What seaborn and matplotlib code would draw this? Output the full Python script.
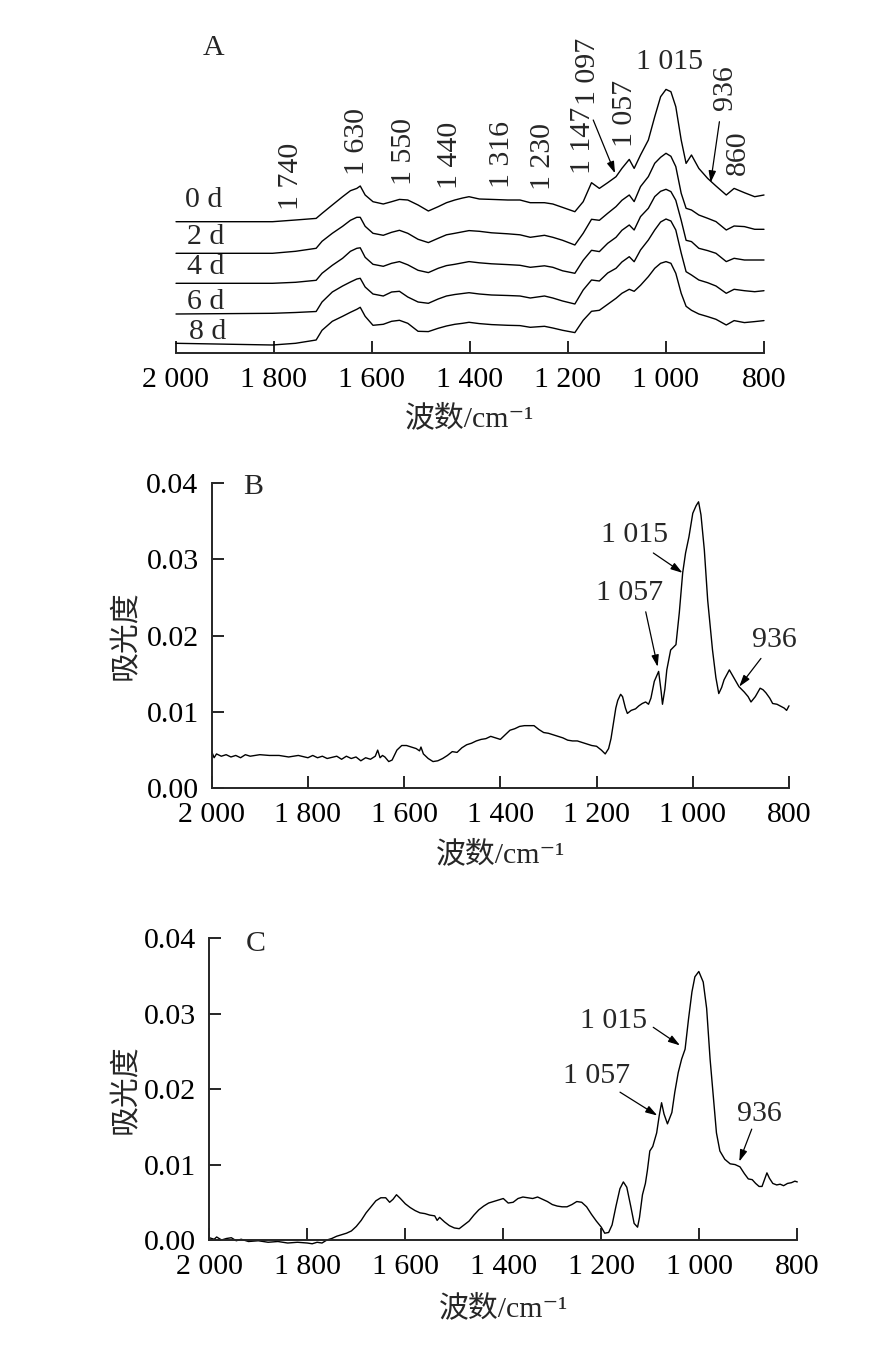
import numpy as np
import pandas as pd
import matplotlib
matplotlib.use("Agg")
import matplotlib.pyplot as plt
import seaborn as sns

sns.set_style("ticks")
plt.rcParams['font.family'] = ['Liberation Serif', 'Noto Sans CJK SC', 'DejaVu Sans']
plt.rcParams['axes.unicode_minus'] = True

# ---------------- data ----------------
# Panel A: wavenumbers and intensities (a.u.) for each storage day
wn_A = [2000, 1803, 1756, 1714, 1702, 1681, 1660, 1644, 1631, 1624, 1614, 1598, 1577, 1560,
        1544, 1527, 1506, 1485, 1465, 1448, 1431, 1415, 1402, 1381, 1356, 1323, 1298, 1277,
        1248, 1231, 1211, 1186, 1169, 1152, 1136, 1119, 1102, 1090, 1075, 1065, 1052, 1036,
        1023, 1011, 1000, 990, 980, 969, 959, 948, 933, 915, 898, 877, 861, 840, 819, 800]
days = ["0 d", "2 d", "4 d", "6 d", "8 d"]
int_0d = [0, 0, 1.7, 3.3, 8.3, 16.7, 25, 31, 33.3, 35.7, 26.7, 20, 17.7, 20,
          22.3, 21.7, 16.7, 10.7, 15, 19, 21.7, 23.7, 25, 22.7, 22.3, 21.7, 21.7, 19,
          19, 17.7, 14.3, 10, 20, 39, 33.3, 39, 45, 53.3, 62.3, 53.3, 66.7, 81.7,
          105, 125, 132.3, 130, 115, 81.7, 58.3, 66.7, 53.3, 43.3, 35.7, 26.7, 33.3, 29, 25, 26.7]
int_2d = [0, 0, 2, 5, 12, 20, 27, 33, 36, 36, 27, 20, 18, 21,
          23, 20, 14, 10.7, 15, 18.5, 20, 21.5, 22.7, 22, 20.5, 19.5, 18.5, 16,
          18, 16, 13, 8.3, 20, 34, 33, 40, 46.7, 53, 58.3, 51.7, 66.7, 76.7,
          90, 96, 100, 97, 86.7, 60, 45, 43.3, 38.3, 35, 31.7, 23.3, 27.3, 26.7, 24, 24]
int_4d = [0, 0, 1, 3, 10, 18, 25, 32, 35, 35.5, 26, 19, 17, 20,
          21.7, 18.5, 13, 10.7, 15, 17.7, 19, 20.5, 21.7, 20.5, 19.5, 18.7, 18, 16,
          17.5, 16, 12.5, 10, 23, 33, 31.7, 40, 46, 53, 58.3, 53.3, 66.7, 75,
          86.7, 92, 94, 91.7, 83, 63, 43, 41.7, 35, 32.7, 30, 21.7, 25, 23.3, 23.3, 23.3]
int_6d = [0, 0.7, 1.5, 2.5, 12, 22, 28, 32, 35, 35.7, 27, 20, 18, 22,
          22.7, 17, 12, 10.7, 15, 18, 19.5, 20.5, 21.3, 20, 19, 18.5, 18, 16,
          18, 16, 13, 10, 24, 34, 33, 41, 45.7, 52, 57.3, 52.3, 64, 74,
          84, 92, 95, 93, 84, 61, 42.3, 39, 34, 31.3, 28, 20.7, 24.7, 23.3, 22.3, 23.3]
int_8d = [0, -1.7, 0, 3.3, 13, 22, 27, 31, 34, 36, 27, 18, 19, 22,
          23, 20, 12, 11.7, 15, 17.3, 19, 20, 21, 19.7, 18.7, 18, 17.7, 16,
          17, 15.3, 13, 10.7, 23, 32, 33, 39, 45, 50, 54, 52, 58, 66.7,
          75, 80, 81.7, 80, 70, 50, 37, 33, 29.3, 26.7, 24, 18.3, 22.7, 20.7, 21.7, 22.7]
offsets_A = [131, 99.4, 69.4, 38.7, 9.4]

peaks_A_rot = ["1 740", "1 630", "1 550", "1 440", "1 316", "1 230", "1 147", "1 097", "1 057", "936", "860"]

# Panel B: absorbance
wn_B = [2000, 1995, 1990, 1980, 1970, 1960, 1950, 1940, 1930, 1920, 1900, 1880, 1860, 1840,
        1820, 1800, 1790, 1780, 1770, 1760, 1740, 1730, 1720, 1710, 1700, 1690, 1680, 1670,
        1660, 1655, 1650, 1645, 1640, 1632, 1625, 1615, 1605, 1595, 1585, 1575, 1568, 1565,
        1560, 1550, 1540, 1530, 1520, 1510, 1500, 1490, 1480, 1470, 1460, 1450, 1440, 1430,
        1420, 1410, 1400, 1390, 1380, 1370, 1360, 1350, 1340, 1330, 1320, 1310, 1300, 1290,
        1280, 1270, 1260, 1250, 1240, 1230, 1220, 1210, 1200, 1190, 1182, 1175, 1170, 1165,
        1160, 1156, 1150, 1146, 1140, 1136, 1128, 1119, 1112, 1105, 1098, 1092, 1087, 1080,
        1071, 1066, 1063, 1058, 1054, 1046, 1035, 1028, 1021, 1015, 1008, 1000, 993, 988,
        983, 976, 969, 959, 952, 946, 940, 935, 924, 914, 904, 893, 885, 879, 870, 860,
        854, 848, 840, 834, 825, 816, 810, 805, 800]
abs_B = [0.0048, 0.0040, 0.0045, 0.0042, 0.0044, 0.0041, 0.0043, 0.0040, 0.0044, 0.0042, 0.0044, 0.0043, 0.0043, 0.0041,
         0.0043, 0.0040, 0.0043, 0.0040, 0.0042, 0.0039, 0.0042, 0.0038, 0.0042, 0.0039, 0.0041, 0.0036, 0.0040, 0.0038,
         0.0042, 0.0050, 0.0040, 0.0043, 0.0041, 0.0035, 0.0037, 0.0050, 0.0056, 0.0056, 0.0054, 0.0052, 0.0049, 0.0054,
         0.0045, 0.0039, 0.0035, 0.0036, 0.0039, 0.0043, 0.0048, 0.0047, 0.0053, 0.0057, 0.0059, 0.0062, 0.0064, 0.0065,
         0.0068, 0.0066, 0.0064, 0.0070, 0.0076, 0.0078, 0.0081, 0.0082, 0.0082, 0.0082, 0.0077, 0.0073, 0.0072, 0.0070,
         0.0068, 0.0066, 0.0063, 0.0062, 0.0062, 0.0060, 0.0058, 0.0056, 0.0055, 0.0050, 0.0045, 0.0052, 0.0065, 0.0085,
         0.0105, 0.0115, 0.0123, 0.0120, 0.0105, 0.0098, 0.0102, 0.0104, 0.0108, 0.0111, 0.0113, 0.0110, 0.0118, 0.0140,
         0.0153, 0.0128, 0.0110, 0.0130, 0.0155, 0.0181, 0.0188, 0.0230, 0.0282, 0.0308, 0.0329, 0.0360, 0.0370, 0.0375,
         0.0358, 0.0312, 0.0246, 0.0181, 0.0145, 0.0124, 0.0132, 0.0142, 0.0155, 0.0144, 0.0133, 0.0126, 0.0120, 0.0113, 0.0120, 0.0131,
         0.0129, 0.0125, 0.0118, 0.0111, 0.0110, 0.0107, 0.0105, 0.0102, 0.0108]

# Panel C: absorbance
wn_C = [2000, 1990, 1985, 1975, 1965, 1955, 1945, 1935, 1920, 1900, 1880, 1860, 1840, 1820,
        1800, 1790, 1780, 1770, 1760, 1750, 1740, 1730, 1720, 1710, 1700, 1690, 1680, 1670,
        1660, 1650, 1640, 1632, 1625, 1618, 1610, 1600, 1590, 1580, 1570, 1560, 1550, 1540,
        1535, 1530, 1520, 1510, 1500, 1490, 1480, 1470, 1460, 1450, 1440, 1430, 1420, 1410,
        1400, 1390, 1380, 1370, 1360, 1350, 1340, 1330, 1320, 1310, 1300, 1290, 1280, 1270,
        1260, 1250, 1240, 1230, 1220, 1210, 1200, 1193, 1185, 1178, 1170, 1162, 1155, 1148,
        1140, 1133, 1126, 1122, 1116, 1110, 1106, 1101, 1095, 1087, 1082, 1077, 1072, 1065,
        1056, 1050, 1043, 1036, 1029, 1022, 1015, 1009, 1001, 992, 985, 978, 971, 965,
        958, 948, 937, 927, 917, 908, 900, 892, 885, 878, 872, 866, 862, 857,
        850, 842, 835, 828, 820, 812, 805, 800]
abs_C = [0.0003, 0.0001, 0.0004, 0.0000, 0.0002, 0.0003, -0.0001, 0.0001, -0.0002, -0.0001, -0.0003, -0.0002, -0.0004, -0.0003,
         -0.0004, -0.0005, -0.0003, -0.0004, 0.0000, 0.0002, 0.0005, 0.0007, 0.0009, 0.0012, 0.0018, 0.0026, 0.0036, 0.0044,
         0.0052, 0.0056, 0.0056, 0.0050, 0.0054, 0.0060, 0.0055, 0.0048, 0.0043, 0.0039, 0.0036, 0.0035, 0.0033, 0.0032,
         0.0026, 0.0030, 0.0024, 0.0019, 0.0016, 0.0015, 0.0020, 0.0025, 0.0033, 0.0040, 0.0045, 0.0049, 0.0051, 0.0053,
         0.0055, 0.0049, 0.0050, 0.0055, 0.0057, 0.0056, 0.0055, 0.0057, 0.0054, 0.0051, 0.0047, 0.0045, 0.0044, 0.0044,
         0.0047, 0.0051, 0.0050, 0.0044, 0.0034, 0.0025, 0.0017, 0.0009, 0.0010, 0.0020, 0.0045, 0.0068, 0.0077, 0.0070,
         0.0045, 0.0022, 0.0017, 0.0030, 0.0060, 0.0075, 0.0092, 0.0118, 0.0124, 0.0142, 0.0164, 0.0182, 0.0167, 0.0154,
         0.0169, 0.0196, 0.0222, 0.0240, 0.0253, 0.0293, 0.0329, 0.0349, 0.0356, 0.0342, 0.0307, 0.0240, 0.0187, 0.0142,
         0.0118, 0.0107, 0.0101, 0.0100, 0.0097, 0.0088, 0.0081, 0.0080, 0.0075, 0.0071, 0.0071, 0.0082, 0.0089, 0.0082,
         0.0075, 0.0073, 0.0074, 0.0072, 0.0075, 0.0076, 0.0078, 0.0077]

x_ticks = [2000, 1800, 1600, 1400, 1200, 1000, 800]
x_tick_labels = ["2 000", "1 800", "1 600", "1 400", "1 200", "1 000", "800"]
y_ticks = [0.00, 0.01, 0.02, 0.03, 0.04]
y_tick_labels = ["0.00", "0.01", "0.02", "0.03", "0.04"]
xlabel = "波数/cm⁻¹"
ylabel = "吸光度"

# ---------------- figure ----------------
W, H = 894, 1349
fig = plt.figure(figsize=(W / 100, H / 100), dpi=100)
FS = 21.5
LW = 1.0


def frac_rect(left, top, right, bottom):
    return [left / W, 1 - bottom / H, (right - left) / W, (bottom - top) / H]


def style_axis(ax, left_spine=True):
    for s in ["top", "right"]:
        ax.spines[s].set_visible(False)
    ax.spines["bottom"].set_linewidth(1.4)
    ax.spines["left"].set_linewidth(1.4)
    if not left_spine:
        ax.spines["left"].set_visible(False)
    ax.tick_params(axis="both", direction="in", length=8.5, width=1.2,
                   labelsize=FS, colors="black")
    ax.tick_params(axis="x", pad=10)
    ax.tick_params(axis="y", pad=9.5)
    ax.set_xlim(2000, 800)
    ax.set_xticks(x_ticks)
    ax.set_xticklabels(x_tick_labels)


arrow_kw = dict(arrowstyle="-|>,head_length=0.7,head_width=0.22", color="black",
                lw=0.9, shrinkA=0, shrinkB=0, mutation_scale=10)

# ----- Panel A -----
axA = fig.add_axes(frac_rect(176, 0, 764, 352.7))
style_axis(axA, left_spine=False)
for lab, vals, off in zip(days, [int_0d, int_2d, int_4d, int_6d, int_8d], offsets_A):
    df = pd.DataFrame({"wn": wn_A, "y": np.array(vals) + off})
    sns.lineplot(data=df, x="wn", y="y", ax=axA, color="black", lw=LW, sort=False,
                 estimator=None)
axA.set_xlim(2000, 800)
axA.set_ylim(0, 352.7)
axA.set_yticks([])
axA.set_ylabel("")
axA.set_xlabel(xlabel, fontsize=FS, va="center")
axA.xaxis.set_label_coords(0.5, -66 / 352.7)

day_pos = [(1943, 152.7), (1939, 116), (1939, 86), (1939, 51), (1935, 21)]
for lab, (x, y) in zip(days, day_pos):
    axA.text(x, y, lab, fontsize=FS, ha="center", va="center")
axA.text(1924, 304.7, "A", fontsize=FS, ha="center", va="center")

rot_pos = [(1766, 176), (1631, 211), (1535, 201), (1440, 197.7), (1335, 197.7), (1250, 196),
           (1169, 212.7), (1159, 281), (1084, 239.7), (879, 265), (853, 199.7)]
for lab, (x, y) in zip(peaks_A_rot, rot_pos):
    axA.text(x, y, lab, fontsize=FS, rotation=90, ha="center", va="center")
axA.text(992, 291, "1 015", fontsize=FS, ha="center", va="center")
axA.annotate("", xy=(1104, 179.4), xytext=(1148.5, 232.7), arrowprops=arrow_kw)
axA.annotate("", xy=(909, 170), xytext=(891, 231), arrowprops=arrow_kw)

# ----- Panel B -----
axB = fig.add_axes(frac_rect(211.7, 482.7, 789, 788.3))
dfB = pd.DataFrame({"wn": wn_B, "abs": abs_B})
sns.lineplot(data=dfB, x="wn", y="abs", ax=axB, color="black", lw=LW, sort=False, estimator=None)
style_axis(axB)
axB.set_ylim(0, 0.04)
axB.set_yticks(y_ticks)
axB.set_yticklabels(y_tick_labels)
axB.set_xlabel(xlabel, fontsize=FS, va="center")
axB.xaxis.set_label_coords(0.5, -66 / 305.6)
axB.set_ylabel(ylabel, fontsize=FS, va="center")
axB.yaxis.set_label_coords(-(211.7 - 125) / 577.3, 0.5)
axB.text(1914, 0.0395, "B", fontsize=FS, ha="center", va="center")
axB.text(1122, 0.0332, "1 015", fontsize=FS, ha="center", va="center")
axB.annotate("", xy=(1021.4, 0.0282), xytext=(1082, 0.0308), arrowprops=arrow_kw)
axB.text(1132, 0.0255, "1 057", fontsize=FS, ha="center", va="center")
axB.annotate("", xy=(1073, 0.0159), xytext=(1097.8, 0.0231), arrowprops=arrow_kw)
axB.text(830, 0.0194, "936", fontsize=FS, ha="center", va="center")
axB.annotate("", xy=(903.5, 0.0133), xytext=(858.3, 0.0170), arrowprops=arrow_kw)

# ----- Panel C -----
axC = fig.add_axes(frac_rect(209.3, 938.3, 797.3, 1240))
dfC = pd.DataFrame({"wn": wn_C, "abs": abs_C})
sns.lineplot(data=dfC, x="wn", y="abs", ax=axC, color="black", lw=LW, sort=False, estimator=None)
style_axis(axC)
axC.set_ylim(0, 0.04)
axC.set_yticks(y_ticks)
axC.set_yticklabels(y_tick_labels)
axC.set_xlabel(xlabel, fontsize=FS, va="center")
axC.xaxis.set_label_coords(0.5, -68 / 301.7)
axC.set_ylabel(ylabel, fontsize=FS, va="center")
axC.yaxis.set_label_coords(-(209.3 - 125) / 588, 0.5)
axC.text(1906, 0.0393, "C", fontsize=FS, ha="center", va="center")
axC.text(1175.5, 0.0291, "1 015", fontsize=FS, ha="center", va="center")
axC.annotate("", xy=(1039.4, 0.0258), xytext=(1094, 0.0282), arrowprops=arrow_kw)
axC.text(1209.4, 0.0218, "1 057", fontsize=FS, ha="center", va="center")
axC.annotate("", xy=(1085.7, 0.0165), xytext=(1161.8, 0.0196), arrowprops=arrow_kw)
axC.text(877.6, 0.0167, "936", fontsize=FS, ha="center", va="center")
axC.annotate("", xy=(918.4, 0.0104), xytext=(893, 0.0147), arrowprops=arrow_kw)

for ax in (axA, axB, axC):
    for line in ax.lines:
        line.set_clip_on(False)

fig.savefig("out.png", dpi=100, facecolor="white")
